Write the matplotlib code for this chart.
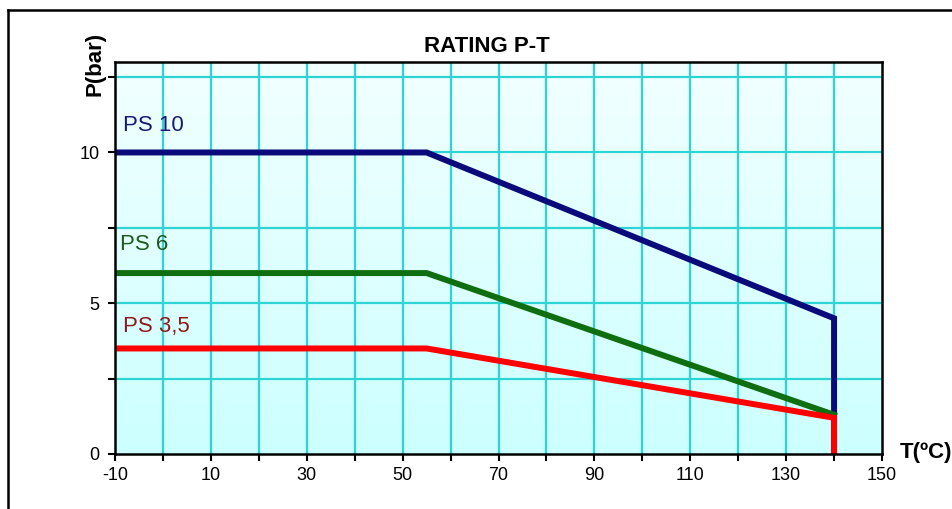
import matplotlib
matplotlib.use("Agg")
import matplotlib.pyplot as plt
import numpy as np
from matplotlib.lines import Line2D

plt.rcParams['font.family'] = ['Liberation Sans', 'DejaVu Sans']

# Data
temp_ps10 = [-10, 55, 140, 140]
pres_ps10 = [10, 10, 4.5, 0]
temp_ps6 = [-10, 55, 140]
pres_ps6 = [6, 6, 1.3]
temp_ps35 = [-10, 55, 140, 140]
pres_ps35 = [3.5, 3.5, 1.2, 0]
series_labels = ["PS 10", "PS 6", "PS 3,5"]
xtick_labels = [-10, 10, 30, 50, 70, 90, 110, 130, 150]
ytick_labels = [0, 5, 10]

W, H = 952, 509
fig = plt.figure(figsize=(W / 100, H / 100), dpi=100)
ax = fig.add_axes([115 / W, (H - 454) / H, (882 - 115) / W, (454 - 62) / H])

xmin, xmax, ymin, ymax = -10, 150, 0, 13
ax.set_xlim(xmin, xmax)
ax.set_ylim(ymin, ymax)

# background gradient (cyan at bottom to near-white at top)
grad = np.linspace(0, 1, 256).reshape(-1, 1)
c_bot = np.array([0.80, 1.0, 1.0])
c_top = np.array([0.95, 1.0, 1.0])
img = c_bot + (c_top - c_bot) * grad[..., None]
img = img.reshape(256, 1, 3)
ax.imshow(img, extent=[xmin, xmax, ymin, ymax], origin='lower', aspect='auto', zorder=0)

# grid
grid_c = '#2ed3d3'
for x in np.arange(0, 150, 10):
    ax.axvline(x, color=grid_c, lw=1.6, zorder=1)
for y in np.arange(2.5, 13, 2.5):
    ax.axhline(y, color=grid_c, lw=1.6, zorder=1)

# lines
ax.plot(temp_ps10, pres_ps10, color='#0a0a7a', lw=4.3, zorder=3, solid_joinstyle='miter')
ax.plot(temp_ps6, pres_ps6, color='#0f6e0f', lw=4.3, zorder=4, solid_joinstyle='miter')
ax.plot(temp_ps35, pres_ps35, color='#ff0000', lw=4.3, zorder=5, solid_joinstyle='miter')

# labels
ax.text(-8.3, 10.7, series_labels[0], color='#1a1a70', fontsize=16, zorder=6)
ax.text(-9.0, 6.78, series_labels[1], color='#1e5a1e', fontsize=16, zorder=6)
ax.text(-8.3, 4.05, series_labels[2], color='#901818', fontsize=16, zorder=6)

# ticks
ax.set_xticks(xtick_labels)
ax.set_xticklabels([str(v) for v in xtick_labels])
ax.set_xticks(np.arange(0, 150, 20), minor=True)
ax.set_yticks(ytick_labels)
ax.set_yticklabels([str(v) for v in ytick_labels])
ax.set_yticks([2.5, 7.5, 12.5], minor=True)
ax.tick_params(axis='both', which='both', direction='out', length=5, width=1.5, labelsize=13, color='black')
ax.tick_params(axis='x', pad=4)
ax.tick_params(axis='y', pad=6)

for s in ax.spines.values():
    s.set_linewidth(1.8)
    s.set_color('black')
    s.set_zorder(7)

# title and axis titles
fig.text(487 / W, 1 - 52 / H, "RATING P-T", fontsize=16, fontweight='bold', ha='center', va='baseline')
fig.text(95 / W, 1 - 64 / H, "P(bar)", fontsize=16, fontweight='bold', rotation=90, ha='center', va='center')
fig.text(900 / W, 1 - 458 / H, "T(ºC)", fontsize=16, fontweight='bold', ha='left', va='baseline')

# outer frame (left and top visible)
fig.add_artist(Line2D([8 / W, 8 / W], [0, 1 - 10 / H], color='black', lw=1.8, transform=fig.transFigure))
fig.add_artist(Line2D([8 / W, 1], [1 - 10 / H, 1 - 10 / H], color='black', lw=1.8, transform=fig.transFigure))

fig.savefig("out.png", dpi=100)
